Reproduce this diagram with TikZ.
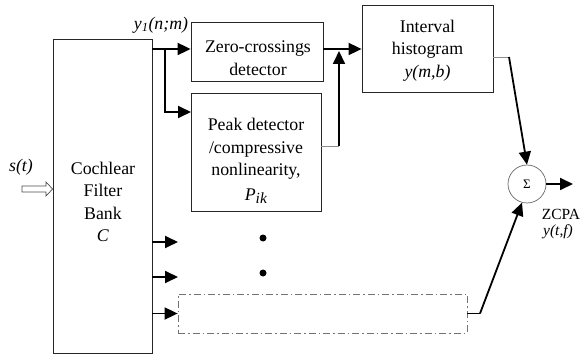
\documentclass[tikz,border=0pt]{standalone}
\usepackage{fontspec}
\setmainfont{Liberation Serif}
\usetikzlibrary{arrows.meta,calc}
\begin{document}
\begin{tikzpicture}[x=1pt,y=-1pt,
  box/.style={draw=black!85, line width=0.8pt, rectangle, inner sep=0pt},
  txt/.style={font=\fontsize{17.8}{22.5}\selectfont, align=center, inner sep=0pt},
  arr/.style={line width=1.8pt, -{Triangle[length=13pt,width=12pt]}},
  gline/.style={draw=black!45, line width=0.8pt},
  dotnode/.style={circle, fill=black, inner sep=0pt, minimum size=7pt}]
\useasboundingbox (0,0) rectangle (580,355);
% boxes
\node[box, minimum width=99pt, minimum height=314pt] (bank) at (102.5,196) {};
\node[txt] (banktxt) at (103,202) {Cochlear\\Filter\\Bank\\\textit{C}};
\node[box, minimum width=132pt, minimum height=59pt] (zc) at (257,51.5) {};
\node[txt] (zctxt) at (258,58) {Zero-crossings\\detector};
\node[box, minimum width=130pt, minimum height=118pt] (pk) at (256,152) {};
\node[txt] (pktxt) at (256,161) {Peak detector\\/compressive\\nonlinearity,\\[2pt]\textit{P}\raisebox{-0.4ex}{\fontsize{15.5}{15}\selectfont\textit{ik}}};
\node[box, minimum width=131pt, minimum height=87pt] (ih) at (427.5,48.5) {};
\node[txt] (ihtxt) at (427.5,50.5) {Interval\\histogram\\\textit{y(m,b)}};
\node[circle, draw=black!60, line width=0.7pt, minimum size=38pt, inner sep=0pt, font=\fontsize{13}{13}\selectfont] (sum) at (527,184) {Σ};
\node[draw=black!55, line width=0.8pt, dash pattern=on 7pt off 3pt on 1.5pt off 3pt, minimum width=289pt, minimum height=39pt, inner sep=0pt] (dd) at (322.5,313.5) {};
% labels
\node[font=\fontsize{17.8}{20}\selectfont\itshape, inner sep=0pt] (st) at (21,167) {s(t)};
\node[font=\fontsize{17.8}{20}\selectfont\itshape, inner sep=0pt] (ylab) at (161,25) {y\textsubscript{1}(n;m)};
\node[font=\fontsize{15.5}{18}\selectfont, inner sep=0pt] (zcpa) at (561,214) {ZCPA};
\node[font=\fontsize{15.5}{18}\selectfont\itshape, inner sep=0pt] (ytf) at (558,232) {y(t,f)};
\node[dotnode] (d1) at (263,238) {};
\node[dotnode] (d2) at (263,273) {};
% coordinates
\coordinate (br) at (165,49);
\coordinate (pkin) at (191,112);
\coordinate (pkout) at (339,146);
\coordinate (join) at (339,51);
\coordinate (ihout) at (509,57);
\coordinate (ddout) at (480,313.5);
\coordinate (out) at (573,184);
\coordinate (a1) at (178,242);
\coordinate (a2) at (178,277);
% hollow input arrow
\draw[black!70, line width=0.7pt] (22,186) -- (46,186) -- (46,182) -- (bank.west |- 0,189) -- (46,196) -- (46,192) -- (22,192) -- cycle;
% connectors
\draw[arr] (bank.east |- br) -- (zc.west |- br);
\draw[arr] (br) |- (pkin);
\draw[arr] (zc.east |- br) -- (ih.west |- br);
\draw[gline] (pk.east |- pkout) -- (pkout);
\draw[arr] (pkout) -- (join);
\draw[gline] (ih.east |- ihout) -- (ihout);
\draw[arr] (ihout) -- (sum.north);
\draw[line width=1pt] (dd.east) -- (ddout);
\draw[arr] (ddout) -- (sum.-105);
\draw[arr] (sum.east) -- (out);
\draw[arr] (bank.east |- a1) -- (a1);
\draw[arr] (bank.east |- a2) -- (a2);
\draw[arr] (bank.east |- dd.west) -- (dd.west);
\end{tikzpicture}
\end{document}
